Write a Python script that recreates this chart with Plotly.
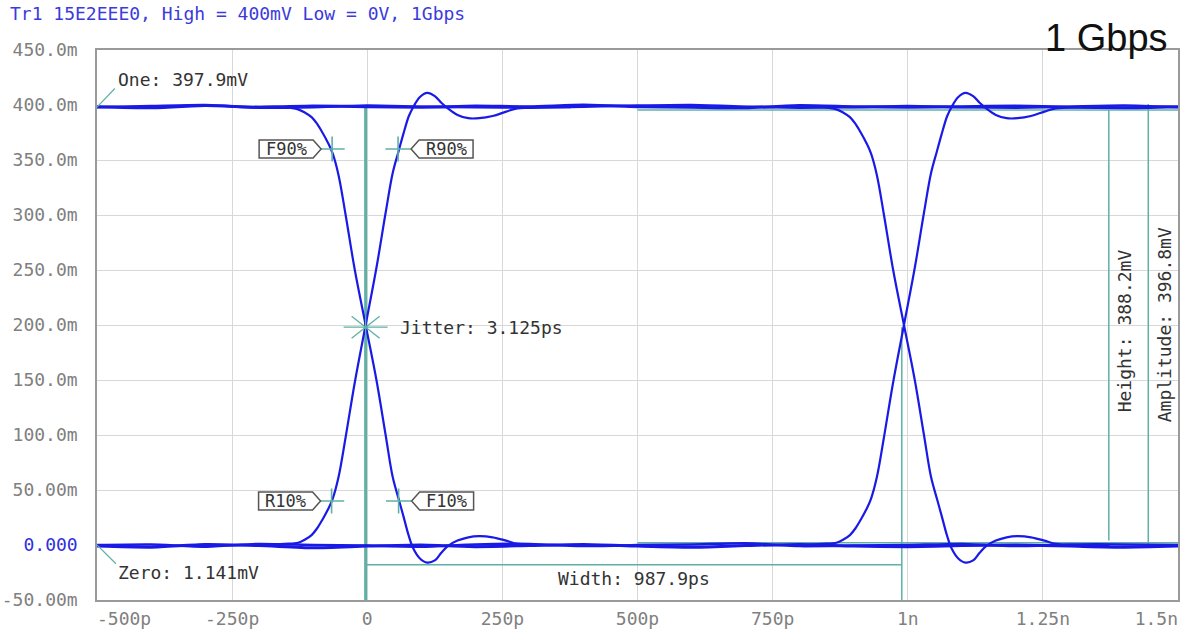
import plotly.graph_objects as go

# ---------------- data (time in ps, voltage in mV) ----------------
title_text = "Tr1 15E2EEE0, High = 400mV Low = 0V, 1Gbps"
rate_label = "1 Gbps"

x_tick_vals = [-250, 0, 250, 500, 750, 1000, 1250]
x_tick_text = ["-250p", "0", "250p", "500p", "750p", "1n", "1.25n"]
x_first_val, x_first_text = -500, "-500p"
x_last_val, x_last_text = 1500, "1.5n"
y_tick_vals = [450, 400, 350, 300, 250, 200, 150, 100, 50, 0, -50]
y_tick_text = ["450.0m", "400.0m", "350.0m", "300.0m", "250.0m", "200.0m",
               "150.0m", "100.0m", "50.00m", "<span style='color:#2f2fe0'>0.000</span>", "-50.00m"]

# flat level traces
level_t = [-500, -400, -300, -200, -100, 0, 100, 200, 300, 400, 500, 600, 700, 800, 900,
           1000, 1100, 1200, 1300, 1400, 1500]
high_a = [398.5, 397.5, 399.5, 398.0, 399.0, 398.5, 398.0, 399.0, 398.5, 400.0, 398.5,
          398.0, 397.5, 399.5, 398.5, 398.0, 398.5, 399.0, 398.0, 397.5, 398.5]
high_b = [398.0, 399.0, 400.0, 397.5, 398.0, 399.5, 398.5, 398.0, 397.5, 398.5, 399.5,
          400.0, 398.5, 397.5, 398.0, 399.0, 398.0, 397.5, 398.5, 399.5, 398.0]
low_a = [-1.0, -2.0, 0.5, -0.5, -2.5, -1.0, 0.0, -1.5, -0.5, 0.5, -1.0,
         -2.0, -0.5, 0.5, -1.0, -1.5, -0.5, 0.0, -1.0, -2.0, -1.0]
low_b = [0.0, 0.5, -1.5, 1.0, 0.0, -0.5, -1.5, 0.5, 1.0, -1.0, 0.0,
         0.5, 1.5, -1.0, -0.5, 0.0, 1.0, -1.0, 0.5, 0.5, 0.0]

# edge shapes relative to the crossing time
edge_rel_t = [-200, -150, -125, -112, -100, -90, -80, -70, -61, -50, -37, -20, 0, 20, 37, 50, 61,
              70, 80, 88, 100, 114, 128, 140, 152, 170, 190, 210, 235, 260, 281, 320, 380]
rise_v = [0, 1, 2, 5, 9, 15, 23, 32, 42, 62, 98, 148, 200, 252, 302, 338, 358,
          374, 390, 398, 407, 411, 408, 402, 397, 391, 388, 388, 390, 394, 397, 398, 398]
fall_v = [398, 398, 396, 393, 389, 383, 375, 366, 356, 336, 300, 250, 200, 150, 100, 62, 42,
          26, 8, -3, -12, -16, -14, -7, -1, 4, 7, 8, 7, 4, 1, 0, 0]
crossing_t = [-3, 993]

# measurement markers
marker_names = ["F90%", "R90%", "R10%", "F10%"]
marker_t = [-65, 57, -66, 58]
marker_v = [360, 360, 40, 40]
marker_side = ["left", "right", "left", "right"]

jitter_t, jitter_v = -3, 198
width_start, width_end, width_level = -3, 989, -18
height_t, height_lo, height_hi = 1372, 4, 395.5
ampl_t, ampl_lo, ampl_hi = 1445, -2, 401
meas_from_t = 500
one_text, zero_text = "One: 397.9mV", "Zero: 1.141mV"
jitter_text, width_text = "Jitter: 3.125ps", "Width: 987.9ps"
height_text, ampl_text = "Height: 388.2mV", "Amplitude: 396.8mV"

# ---------------- styling ----------------
BLUE = "#1a1ae6"
TEAL = "#5fb0a5"
MONO = "DejaVu Sans Mono"
TXT = "#333333"
X_RANGE = [-500, 1500]
TICKFONT = dict(family=MONO, size=18, color="#808080")

fig = go.Figure()

for vals, w in [(high_a, 3), (high_b, 2.5), (low_a, 3), (low_b, 2.5)]:
    fig.add_trace(go.Scatter(x=level_t, y=vals, mode="lines", line=dict(color=BLUE, width=w, shape="spline", smoothing=0.6),
                             hoverinfo="skip", showlegend=False))

for c in crossing_t:
    for vals in (rise_v, fall_v):
        fig.add_trace(go.Scatter(x=[c + t for t in edge_rel_t], y=vals, mode="lines",
                                 line=dict(color=BLUE, width=2.2, shape="spline", smoothing=1.0),
                                 hoverinfo="skip", showlegend=False))

fig.add_trace(go.Scatter(x=marker_t, y=marker_v, mode="markers",
                         marker=dict(symbol="cross-thin", size=18, line=dict(color=TEAL, width=1.6)),
                         hoverinfo="skip", showlegend=False))

# empty traces so the edge-label axes are drawn
for ax in ("x2", "x3"):
    fig.add_trace(go.Scatter(x=[None], y=[None], xaxis=ax, yaxis="y", mode="lines",
                             hoverinfo="skip", showlegend=False))

shapes = []
def vline(x, y0, y1, w=1.5):
    shapes.append(dict(type="line", xref="x", yref="y", x0=x, x1=x, y0=y0, y1=y1,
                       line=dict(color=TEAL, width=w), layer="between"))
def hline(y, x0, x1, w=1.5):
    shapes.append(dict(type="line", xref="x", yref="y", x0=x0, x1=x1, y0=y, y1=y,
                       line=dict(color=TEAL, width=w), layer="between"))

vline(width_start, -50, 400, 3)
vline(width_end, jitter_v, -50, 1.5)
hline(width_level, width_start, width_end)
hline(height_hi, meas_from_t, 1500)
hline(height_lo - 2, meas_from_t, 1500)
vline(height_t, height_lo, height_hi)
vline(ampl_t, ampl_lo, ampl_hi)
# leader lines
shapes.append(dict(type="line", xref="x", yref="y", x0=-500, y0=398, x1=-467, y1=415,
                   line=dict(color=TEAL, width=1.2)))
shapes.append(dict(type="line", xref="x", yref="y", x0=-500, y0=0, x1=-465, y1=-17,
                   line=dict(color=TEAL, width=1.2)))
# jitter star
shapes.append(dict(type="path", xref="x", yref="y", xsizemode="pixel", ysizemode="pixel",
                   xanchor=jitter_t, yanchor=jitter_v,
                   path="M-22,0 L22,0 M0,-12 L0,12 M-14,-11 L14,11 M-14,11 L14,-11",
                   line=dict(color=TEAL, width=1.3)))

annotations = []
for name, t, v, side in zip(marker_names, marker_t, marker_v, marker_side):
    if side == "left":
        path = "M-11,0 L-19,9 L-73,9 L-73,-9 L-19,-9 Z"
        xs = -46
    else:
        path = "M13,0 L21,9 L75,9 L75,-9 L21,-9 Z"
        xs = 48
    shapes.append(dict(type="path", xref="x", yref="y", xsizemode="pixel", ysizemode="pixel",
                       xanchor=t, yanchor=v, path=path, fillcolor="white",
                       line=dict(color="#555555", width=1.5), layer="above"))
    annotations.append(dict(x=t, y=v, xref="x", yref="y", text=name, showarrow=False, xshift=xs,
                            font=dict(family=MONO, size=17, color=TXT)))

annotations += [
    dict(x=-465, y=423, xref="x", yref="y", text=one_text, showarrow=False, xanchor="left",
         font=dict(family=MONO, size=18, color=TXT)),
    dict(x=-465, y=-25, xref="x", yref="y", text=zero_text, showarrow=False, xanchor="left",
         font=dict(family=MONO, size=18, color=TXT)),
    dict(x=57, y=jitter_v, xref="x", yref="y", text=jitter_text, showarrow=False, xanchor="left",
         font=dict(family=MONO, size=18, color=TXT)),
    dict(x=(width_start + width_end) / 2, y=-30, xref="x", yref="y", text=width_text, showarrow=False,
         font=dict(family=MONO, size=18, color=TXT)),
    dict(x=height_t, y=195, xref="x", yref="y", text=height_text, showarrow=False, textangle=-90,
         xshift=16, font=dict(family=MONO, size=18, color=TXT)),
    dict(x=ampl_t, y=200, xref="x", yref="y", text=ampl_text, showarrow=False, textangle=-90,
         xshift=16, font=dict(family=MONO, size=18, color=TXT)),
    dict(x=0.9926, y=1.022, xref="paper", yref="paper", text=rate_label, showarrow=False,
         xanchor="right", yanchor="middle", font=dict(family="Liberation Sans", size=38, color="#111111")),
]

fig.update_layout(
    width=1194, height=632,
    margin=dict(l=97, r=16, t=50, b=32, autoexpand=False),
    paper_bgcolor="white", plot_bgcolor="white",
    title=dict(text=title_text, x=0.0084, xanchor="left", y=0.978, yanchor="middle",
               font=dict(family=MONO, size=18, color="#3b3bdb")),
    shapes=shapes, annotations=annotations, showlegend=False,
    xaxis=dict(range=X_RANGE, tickvals=x_tick_vals, ticktext=x_tick_text,
               showgrid=True, gridcolor="#d8d8d8", gridwidth=1.3, zeroline=False,
               showline=True, linecolor="#9a9a9a", linewidth=1.5, mirror=True,
               ticks="", ticklabelstandoff=2, automargin=False, tickfont=TICKFONT),
    xaxis2=dict(range=X_RANGE, overlaying="x", side="bottom", tickvals=[x_first_val],
                ticktext=[x_first_text], ticklabelposition="outside right", showgrid=False,
                zeroline=False, showline=False, ticks="", ticklabelstandoff=6, automargin=False,
                ticklabeloverflow="allow", tickfont=TICKFONT),
    xaxis3=dict(range=X_RANGE, overlaying="x", side="bottom", tickvals=[x_last_val],
                ticktext=[x_last_text], ticklabelposition="outside left", showgrid=False,
                zeroline=False, showline=False, ticks="", ticklabelstandoff=6, automargin=False,
                ticklabeloverflow="allow", tickfont=TICKFONT),
    yaxis=dict(range=[-50, 450], tickvals=y_tick_vals, ticktext=y_tick_text,
               showgrid=True, gridcolor="#d8d8d8", gridwidth=1.3, zeroline=False,
               showline=True, linecolor="#9a9a9a", linewidth=1.5, mirror=True,
               ticks="", ticklabelstandoff=14, automargin=False, ticklabeloverflow="allow",
               tickfont=TICKFONT),
)

fig.write_html("out.html", config={"displayModeBar": False},
               post_script="document.body.style.margin='0';document.body.style.overflow='hidden';")
